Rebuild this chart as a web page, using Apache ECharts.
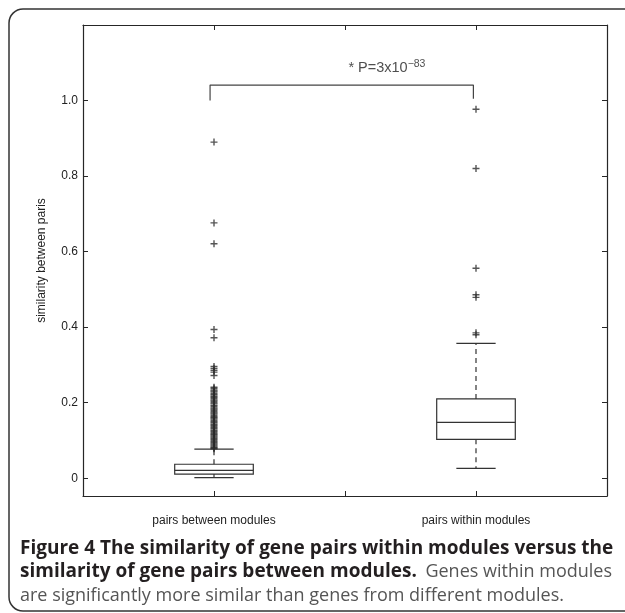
<!DOCTYPE html>
<html>
<head>
<meta charset="utf-8">
<script src="https://cdn.jsdelivr.net/npm/echarts@6/dist/echarts.min.js"></script>
<style>
  html, body { margin: 0; padding: 0; background: #fff; }
  #chart { width: 625px; height: 613px; }
</style>
</head>
<body>
<div id="chart"></div>
<script>
// categories (x = 1, 2)
const categories = ['pairs between modules', 'pairs within modules'];

// box stats: [x, lower whisker, q1, median, q3, upper whisker]
const boxStats = [
    [1, 0.0015, 0.011, 0.021, 0.037, 0.077],
    [2, 0.026, 0.103, 0.148, 0.210, 0.357]
];

// outliers
const outliersBetween = [
    0.890, 0.676, 0.621, 0.394, 0.372,
    0.296, 0.291, 0.286, 0.281, 0.272,
    0.241, 0.238, 0.234, 0.231, 0.228, 0.224, 0.221, 0.217, 0.214, 0.211,
    0.207, 0.204, 0.200, 0.197, 0.193, 0.190, 0.186, 0.183, 0.180, 0.176,
    0.173, 0.170, 0.166, 0.163, 0.160, 0.157, 0.153, 0.150, 0.147, 0.143,
    0.140, 0.137, 0.134, 0.131, 0.127, 0.124, 0.121, 0.118, 0.115, 0.112,
    0.109, 0.106, 0.103, 0.100, 0.097, 0.094, 0.091, 0.088, 0.085, 0.082,
    0.080, 0.078
];
const outliersWithin = [0.977, 0.820, 0.556, 0.486, 0.479, 0.385, 0.380];

// significance bracket and label
const bracket = [[0.985, 1.0], [0.985, 1.041], [1.99, 1.041], [1.99, 1.005]];
const pLabelPos = [1.66, 1.088];

const yTicks = [0, 0.2, 0.4, 0.6, 0.8, 1.0];

const chart = echarts.init(document.getElementById('chart'), null, {renderer: 'canvas'});

const lineColor = '#262626';
const plusPath = 'path://M4,0h2v4h4v2h-4v4h-2v-4h-4v-2h4z';

const option = {
    backgroundColor: '#fff',
    animation: false,
    grid: {left: 83, right: 18, top: 25, bottom: 117, containLabel: false},
    xAxis: [
        {
            type: 'value', min: 0.5, max: 2.5, interval: 0.5,
            axisLine: {show: true, onZero: false, lineStyle: {color: lineColor, width: 1.2}},
            axisTick: {show: true, inside: true, length: 5, lineStyle: {color: lineColor}},
            axisLabel: {
                margin: 19, fontSize: 12, color: '#222', fontFamily: 'Liberation Sans',
                formatter: v => (v === 1 ? categories[0] : v === 2 ? categories[1] : '')
            },
            splitLine: {show: false}
        },
        {
            type: 'value', position: 'top', min: 0.5, max: 2.5, interval: 0.5,
            axisLine: {show: true, onZero: false, lineStyle: {color: lineColor, width: 1.2}},
            axisTick: {show: true, inside: true, length: 5, lineStyle: {color: lineColor}},
            axisLabel: {show: false},
            splitLine: {show: false}
        }
    ],
    yAxis: [
        {
            type: 'value', min: -0.047, max: 1.2,
            name: 'similarity between paris', nameLocation: 'middle', nameGap: 35,
            nameTextStyle: {fontSize: 12, color: '#222', fontFamily: 'Liberation Sans'},
            axisLine: {show: true, onZero: false, lineStyle: {color: lineColor, width: 1.2}},
            axisTick: {show: true, inside: true, length: 5, customValues: yTicks, lineStyle: {color: lineColor}},
            axisLabel: {
                margin: 5, fontSize: 12, color: '#222', fontFamily: 'Liberation Sans',
                customValues: yTicks,
                formatter: v => (v === 0 ? '0' : v.toFixed(1))
            },
            splitLine: {show: false}
        },
        {
            type: 'value', position: 'right', min: -0.047, max: 1.2,
            axisLine: {show: true, onZero: false, lineStyle: {color: lineColor, width: 1.2}},
            axisTick: {show: true, inside: true, length: 5, customValues: yTicks, lineStyle: {color: lineColor}},
            axisLabel: {show: false},
            splitLine: {show: false}
        }
    ],
    series: [
        {
            type: 'custom',
            xAxisIndex: 0, yAxisIndex: 0,
            data: boxStats,
            renderItem: function (params, api) {
                const x = api.value(0);
                const lo = api.coord([x, api.value(1)]);
                const q1 = api.coord([x, api.value(2)]);
                const med = api.coord([x, api.value(3)]);
                const q3 = api.coord([x, api.value(4)]);
                const hi = api.coord([x, api.value(5)]);
                const half = api.size([0.15, 0])[0];
                const cap = half / 2;
                const cx = lo[0];
                const solid = {stroke: '#333', lineWidth: 1.2, fill: null};
                const dashed = {stroke: '#333', lineWidth: 1.2, lineDash: [5, 4], fill: null};
                return {
                    type: 'group',
                    children: [
                        {type: 'line', shape: {x1: cx, y1: q3[1], x2: cx, y2: hi[1]}, style: dashed},
                        {type: 'line', shape: {x1: cx, y1: q1[1], x2: cx, y2: lo[1]}, style: dashed},
                        {type: 'line', shape: {x1: cx - cap, y1: hi[1], x2: cx + cap, y2: hi[1]}, style: solid},
                        {type: 'line', shape: {x1: cx - cap, y1: lo[1], x2: cx + cap, y2: lo[1]}, style: solid},
                        {type: 'rect', shape: {x: cx - half, y: q3[1], width: half * 2, height: q1[1] - q3[1]}, style: solid},
                        {type: 'line', shape: {x1: cx - half, y1: med[1], x2: cx + half, y2: med[1]}, style: solid}
                    ]
                };
            }
        },
        {
            type: 'scatter',
            symbol: plusPath, symbolSize: 7,
            itemStyle: {color: '#2a2a2a'},
            data: outliersBetween.map(v => [1, v])
        },
        {
            type: 'scatter',
            symbol: plusPath, symbolSize: 7,
            itemStyle: {color: '#2a2a2a'},
            data: outliersWithin.map(v => [2, v])
        },
        {
            type: 'line',
            data: bracket,
            symbol: 'none',
            lineStyle: {color: '#444', width: 1.2}
        },
        {
            type: 'scatter',
            symbolSize: 0,
            data: [pLabelPos],
            label: {
                show: true, position: 'inside',
                formatter: '{b|* P=3x10}{s|\u221283}',
                rich: {
                    b: {fontSize: 14.5, color: '#222', fontFamily: 'Liberation Sans', verticalAlign: 'bottom'},
                    s: {fontSize: 10.5, color: '#222', fontFamily: 'Liberation Sans', verticalAlign: 'bottom', padding: [0, 0, 6, 0]}
                }
            }
        }
    ],
    graphic: [
        {
            type: 'rect',
            shape: {x: 9, y: 9, width: 700, height: 602, r: [14, 0, 0, 14]},
            style: {fill: null, stroke: '#333', lineWidth: 1.5},
            silent: true
        },
        {
            type: 'text', left: 20, top: 539,
            style: {
                text: 'Figure 4 The similarity of gene pairs within modules versus the',
                font: 'bold 19px "Open Sans"', fill: '#231f20'
            }
        },
        {
            type: 'text', left: 20, top: 562,
            style: {
                text: 'similarity of gene pairs between modules.',
                font: 'bold 19px "Open Sans"', fill: '#231f20'
            }
        },
        {
            type: 'text', right: 13, top: 563,
            style: {
                text: 'Genes within modules',
                font: '18px "Open Sans"', fill: '#555'
            }
        },
        {
            type: 'text', left: 20, top: 587,
            style: {
                text: 'are significantly more similar than genes from different modules.',
                font: '18px "Open Sans"', fill: '#555'
            }
        }
    ]
};

chart.setOption(option);
</script>
</body>
</html>
